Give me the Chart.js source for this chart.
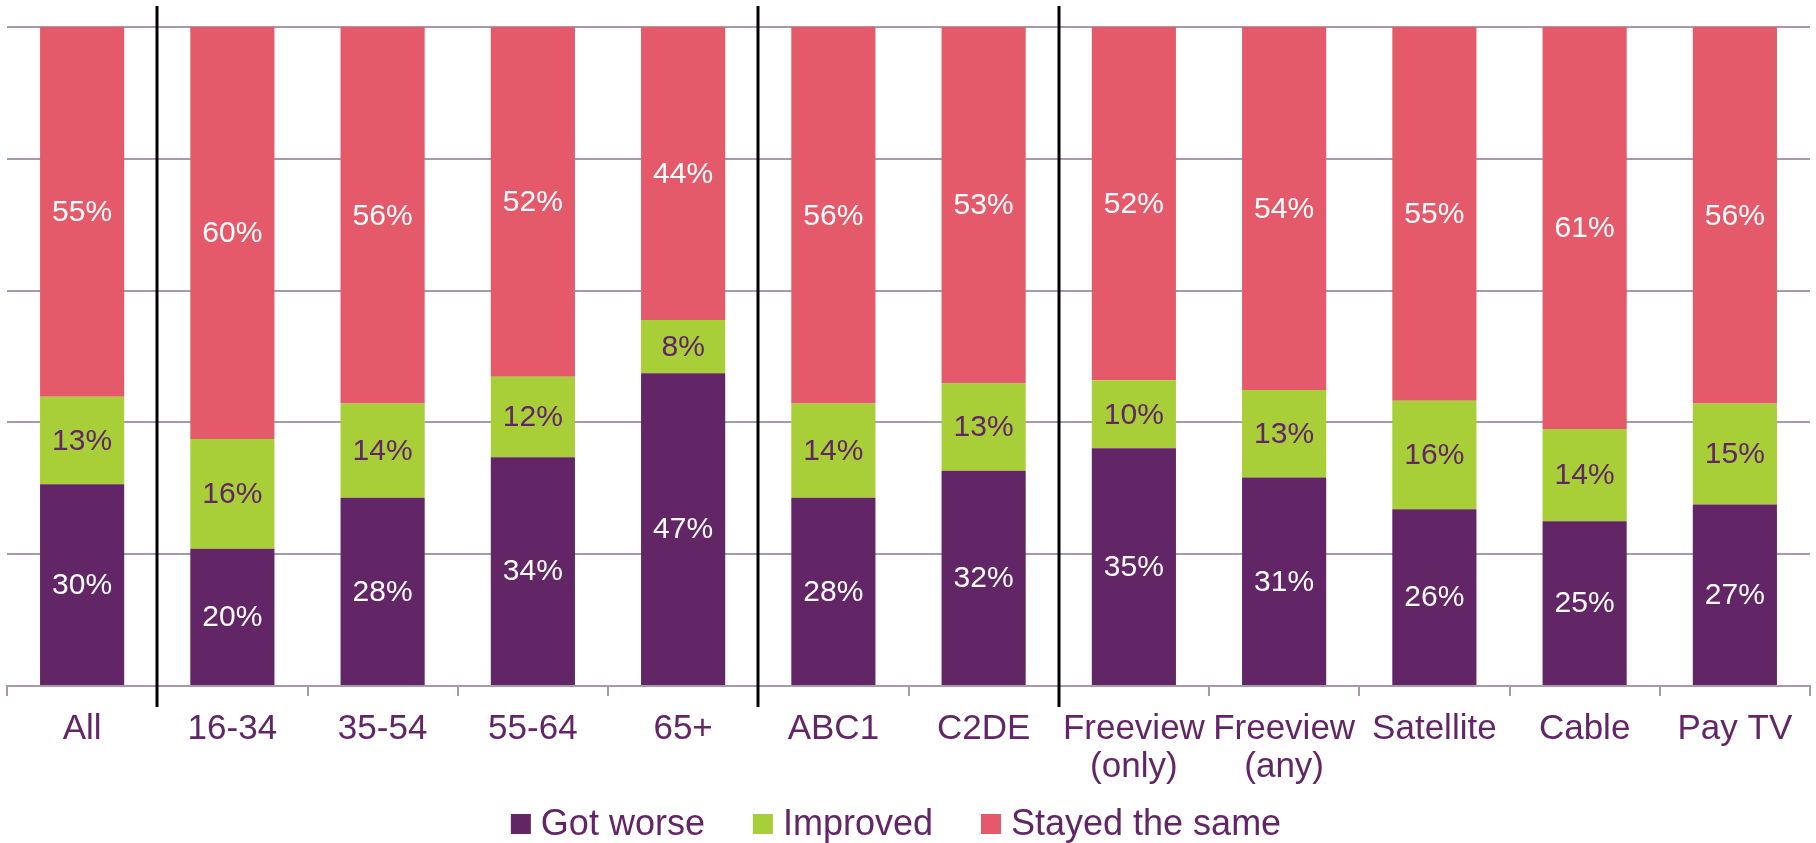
<!DOCTYPE html>
<html>
<head>
<meta charset="utf-8">
<script src="https://cdn.jsdelivr.net/npm/chart.js@4"></script>
<style>
  html, body { margin: 0; padding: 0; background: #fff; }
  #wrap { width: 1816px; height: 843px; }
</style>
</head>
<body>
<div id="wrap"><canvas id="tvChart" width="1816" height="843"></canvas></div>
<script>
  const categories = ['All', '16-34', '35-54', '55-64', '65+', 'ABC1', 'C2DE',
    ['Freeview', '(only)'], ['Freeview', '(any)'], 'Satellite', 'Cable', 'Pay TV'];
  const gotWorse = [30, 20, 28, 34, 47, 28, 32, 35, 31, 26, 25, 27];
  const improved = [13, 16, 14, 12, 8, 14, 13, 10, 13, 16, 14, 15];
  const stayedSame = [55, 60, 56, 52, 44, 56, 53, 52, 54, 55, 61, 56];
  const yTicks = [0, 20, 40, 60, 80, 100];
  // separator lines go before these category indexes
  const groupBreaks = [1, 5, 7];

  const purple = '#622566';
  const green = '#a8ce38';
  const red = '#e55a6a';
  const fontFamily = '"Liberation Sans", Arial, sans-serif';

  // 100% stacked: each bar is scaled to its own total
  const totals = gotWorse.map((v, i) => v + improved[i] + stayedSame[i]);
  const share = arr => arr.map((v, i) => v / totals[i] * 100);

  const segmentLabels = {
    id: 'segmentLabels',
    afterDatasetsDraw(chart) {
      const ctx = chart.ctx;
      ctx.save();
      ctx.font = '30px ' + fontFamily;
      ctx.textAlign = 'center';
      ctx.textBaseline = 'middle';
      chart.data.datasets.forEach((ds, di) => {
        chart.getDatasetMeta(di).data.forEach((bar, i) => {
          const mid = (bar.y + bar.base) / 2;
          ctx.fillStyle = ds.labelColor;
          ctx.fillText(ds.rawValues[i] + '%', bar.x, mid + 1);
        });
      });
      ctx.restore();
    }
  };

  const groupLines = {
    id: 'groupLines',
    afterDraw(chart) {
      const ctx = chart.ctx;
      const x = chart.scales.x;
      ctx.save();
      ctx.strokeStyle = '#000';
      ctx.lineWidth = 3;
      groupBreaks.forEach(i => {
        const px = Math.round((x.getPixelForValue(i - 1) + x.getPixelForValue(i)) / 2);
        ctx.beginPath();
        ctx.moveTo(px, 6);
        ctx.lineTo(px, 707);
        ctx.stroke();
      });
      ctx.restore();
    }
  };

  // simple legend row under the axis labels
  const bottomLegend = {
    id: 'bottomLegend',
    afterDraw(chart) {
      const ctx = chart.ctx;
      const box = 20, gap = 10, spacing = 48, y = 824;
      ctx.save();
      ctx.font = '36px ' + fontFamily;
      ctx.textBaseline = 'middle';
      ctx.textAlign = 'left';
      const items = chart.data.datasets.map(ds => ({ text: ds.label, color: ds.backgroundColor, w: ctx.measureText(ds.label).width }));
      const total = items.reduce((s, it) => s + box + gap + it.w, 0) + spacing * (items.length - 1);
      let x = chart.width / 2 - 12 - total / 2;
      items.forEach(it => {
        ctx.fillStyle = it.color;
        ctx.fillRect(x, y - box / 2, box, box);
        ctx.fillStyle = purple;
        ctx.fillText(it.text, x + box + gap, y + 1);
        x += box + gap + it.w + spacing;
      });
      ctx.restore();
    }
  };

  new Chart(document.getElementById('tvChart').getContext('2d'), {
    type: 'bar',
    data: {
      labels: categories,
      datasets: [
        { label: 'Got worse', data: share(gotWorse), rawValues: gotWorse, backgroundColor: purple, labelColor: '#ffffff' },
        { label: 'Improved', data: share(improved), rawValues: improved, backgroundColor: green, labelColor: purple },
        { label: 'Stayed the same', data: share(stayedSame), rawValues: stayedSame, backgroundColor: red, labelColor: '#ffffff' }
      ]
    },
    options: {
      responsive: false,
      animation: false,
      barPercentage: 0.56,
      categoryPercentage: 1,
      layout: { padding: { top: 27, left: 7, right: 6, bottom: 0 } },
      scales: {
        x: {
          stacked: true,
          afterFit: axis => { axis.height = 157; },
          grid: { drawOnChartArea: false, drawTicks: true, tickLength: 10, color: '#a898ab', lineWidth: 2 },
          border: { color: '#a898ab', width: 2 },
          ticks: {
            color: purple,
            font: { size: 35, family: fontFamily, lineHeight: 1.1 },
            padding: 14,
            maxRotation: 0,
            autoSkip: false
          }
        },
        y: {
          stacked: true,
          min: 0,
          max: 100,
          afterBuildTicks: axis => { axis.ticks = yTicks.map(v => ({ value: v })); },
          ticks: { display: false },
          grid: { color: '#a898ab', lineWidth: 2, drawTicks: false },
          border: { display: false }
        }
      },
      plugins: {
        legend: { display: false },
        tooltip: { enabled: false }
      }
    },
    plugins: [segmentLabels, groupLines, bottomLegend]
  });
</script>
</body>
</html>
